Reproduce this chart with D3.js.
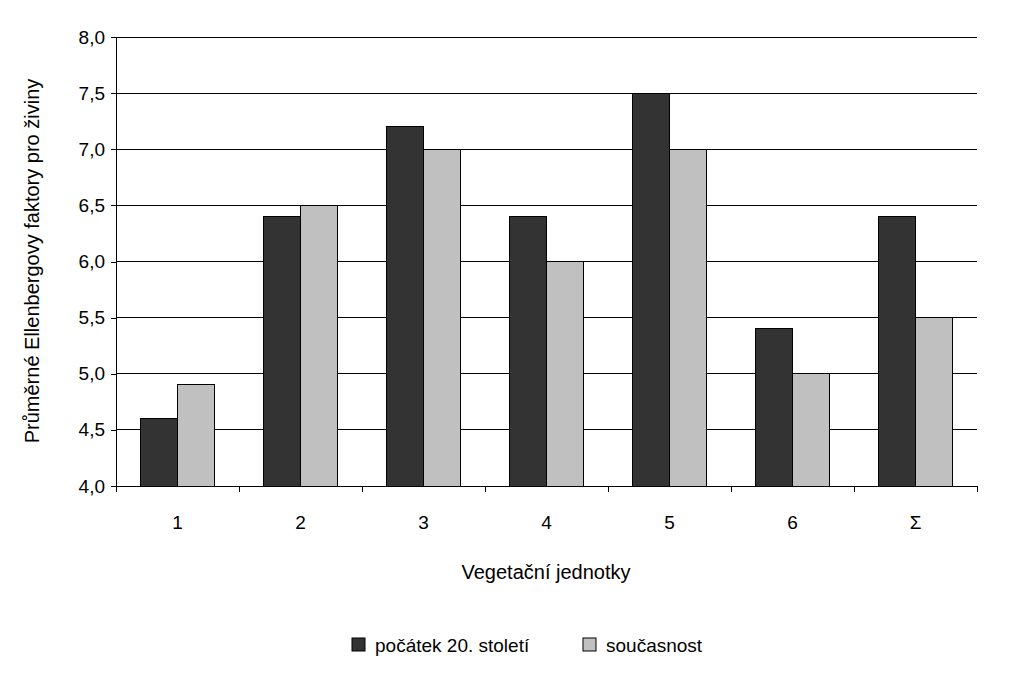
<!DOCTYPE html><html><head><meta charset="utf-8"><script src="https://cdn.jsdelivr.net/npm/d3@7"></script>
<style>body{margin:0;background:#fff}text{font-family:"Liberation Sans",Arial,sans-serif;fill:#000}</style></head><body>
<svg id="c" width="1015" height="673"></svg>
<script>
const categories=["1","2","3","4","5","6","Σ"];
const seriesNames=["počátek 20. století","současnost"];
const early=[4.6,6.4,7.2,6.4,7.5,5.4,6.4];
const present=[4.9,6.5,7.0,6.0,7.0,5.0,5.5];
const yTicks=[4.0,4.5,5.0,5.5,6.0,6.5,7.0,7.5,8.0];
const colors=["#333333","#c0c0c0"];
const svg=d3.select("#c");
const L=116,R=977,T=37,B=486;
const x=d3.scaleBand().domain(categories).range([L,R]);
const x1=d3.scaleBand().domain([0,1]).range([0,74]);
const y=d3.scaleLinear().domain([4,8]).range([B,T]);
const fmt=d=>d.toFixed(1).replace(".",",");
svg.append("g").selectAll("line").data(yTicks).join("line")
 .attr("x1",L).attr("x2",R).attr("y1",d=>y(d)).attr("y2",d=>y(d)).attr("stroke","#000").attr("stroke-width",1).attr("shape-rendering","crispEdges");
const ya=svg.append("g").attr("transform",`translate(${L},0)`).call(d3.axisLeft(y).tickValues(yTicks).tickFormat(fmt).tickSize(5).tickPadding(6));
ya.selectAll("text").attr("font-size",19);
ya.selectAll("line,path").attr("stroke","#000").attr("shape-rendering","crispEdges");
const data=[early,present];
data.forEach((s,i)=>{
 svg.append("g").selectAll("rect").data(s).join("rect")
  .attr("x",(d,j)=>x(categories[j])+x.bandwidth()/2-37+x1(i)).attr("width",x1.bandwidth())
  .attr("y",d=>y(d)).attr("height",d=>B-y(d)).attr("fill",colors[i]).attr("stroke","#000").attr("stroke-width",1).attr("shape-rendering","crispEdges");
});
const xa=svg.append("g").attr("transform",`translate(0,${B})`).call(d3.axisBottom(x).tickSize(0).tickPadding(30));
xa.selectAll("text").attr("font-size",19);
xa.select("path").attr("stroke","#000").attr("shape-rendering","crispEdges");
xa.append("g").selectAll("line").data(d3.range(categories.length+1)).join("line")
 .attr("x1",d=>L+d*x.step()).attr("x2",d=>L+d*x.step()).attr("y1",0).attr("y2",6).attr("stroke","#000").attr("shape-rendering","crispEdges");
svg.append("text").attr("x",546).attr("y",579).attr("text-anchor","middle").attr("font-size",20).text("Vegetační jednotky");
svg.append("text").attr("transform","translate(39,261) rotate(-90)").attr("text-anchor","middle").attr("font-size",20).text("Průměrné Ellenbergovy faktory pro živiny");
const lx=[352,583];
seriesNames.forEach((n,i)=>{
 svg.append("rect").attr("x",lx[i]).attr("y",638).attr("width",13).attr("height",13).attr("fill",colors[i]).attr("stroke","#000");
 svg.append("text").attr("x",lx[i]+23).attr("y",652).attr("font-size",19).text(n);
});
</script></body></html>
